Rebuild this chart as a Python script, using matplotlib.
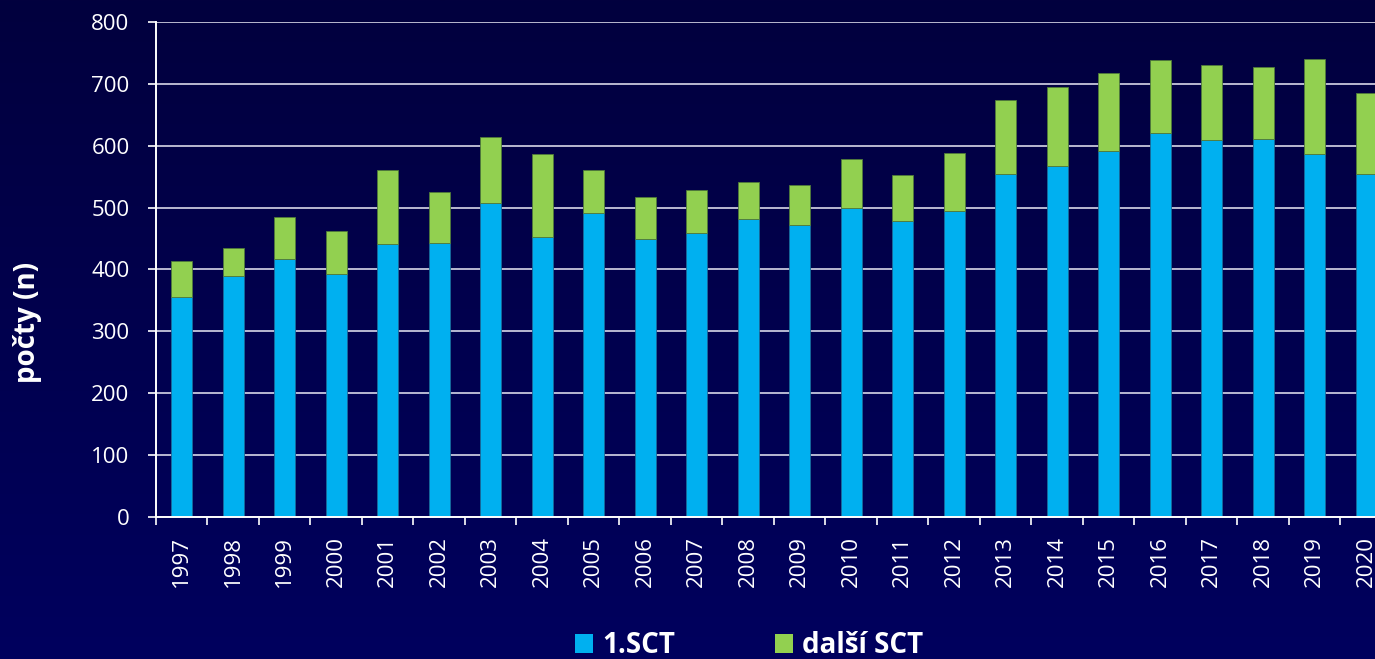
import numpy as np
import matplotlib
matplotlib.use('Agg')
import matplotlib.pyplot as plt

#%% 데이터
years = [str(y) for y in range(1997, 2021)]
first_sct = [356, 390, 417, 393, 442, 443, 507, 452, 491, 449, 459, 481,
             472, 499, 478, 494, 554, 567, 591, 620, 609, 611, 587, 554]
total_sct = [413, 435, 485, 463, 561, 525, 614, 587, 561, 517, 528, 541,
             536, 578, 553, 588, 674, 695, 718, 739, 731, 728, 741, 685]
other_sct = [t - f for t, f in zip(total_sct, first_sct)]

y_ticks = [0, 100, 200, 300, 400, 500, 600, 700, 800]
series_names = ['1.SCT', 'další SCT']
ylabel = 'počty (n)'

#%% 스타일
plt.rcParams['font.family'] = ['Open Sans', 'DejaVu Sans']
c_blue = '#00B0F0'
c_green = '#92D050'
txt = 'white'

fig = plt.figure(figsize=(13.75, 6.59), dpi=100)

# 배경 그라데이션
bg = fig.add_axes([0, 0, 1, 1], zorder=-10)
grad = np.linspace(0, 1, 256).reshape(-1, 1)
top = np.array([2, 0, 62]) / 255
bot = np.array([0, 0, 94]) / 255
img = top + (bot - top) * grad[..., None]
bg.imshow(img, aspect='auto', extent=[0, 1, 0, 1])
bg.axis('off')

ax = fig.add_axes([0.11345, 0.2155, 0.8989, 0.7511])
ax.set_facecolor('none')

x = np.arange(len(years))
w = 0.41
ax.bar(x, first_sct, w, color=c_blue, edgecolor='#1a6a9a', linewidth=0.6,
       label=series_names[0], zorder=3)
ax.bar(x, other_sct, w, bottom=first_sct, color=c_green, edgecolor='#4f7a3a',
       linewidth=0.6, label=series_names[1], zorder=3)

ax.set_xlim(-0.5, len(years) - 0.5)
ax.set_ylim(0, 800)
ax.set_yticks(y_ticks)
ax.yaxis.grid(True, color='#d8d8e8', linewidth=1.2, zorder=1)

ax.set_xticks(x)
ax.set_xticklabels(years, rotation=90)
ax.set_xticks(np.arange(-0.5, len(years), 1), minor=True)
ax.tick_params(axis='x', which='major', length=0, pad=13.5, labelsize=16, labelcolor=txt)
ax.tick_params(axis='x', which='minor', length=6, width=1.2, color='white', direction='out')
ax.tick_params(axis='y', length=6, width=1.2, color='white', pad=13, labelsize=16, labelcolor=txt)

for s in ['top', 'right']:
    ax.spines[s].set_visible(False)
for s in ['left', 'bottom']:
    ax.spines[s].set_color('white')
    ax.spines[s].set_linewidth(1.4)
    ax.spines[s].set_zorder(4)

fig.text(0.02, 0.511, ylabel, rotation=90, color=txt, fontsize=20,
         fontweight='bold', ha='center', va='center')

leg = fig.legend(loc='center', bbox_to_anchor=(0.545, 0.02), ncol=2, frameon=False,
                 fontsize=20, handlelength=0.65, handleheight=0.65,
                 handletextpad=0.33, columnspacing=3.6, borderpad=0)
for t in leg.get_texts():
    t.set_color(txt)
    t.set_fontweight('bold')
for h in leg.legend_handles:
    h.set_edgecolor('none')

plt.savefig('out.png', dpi=100)
